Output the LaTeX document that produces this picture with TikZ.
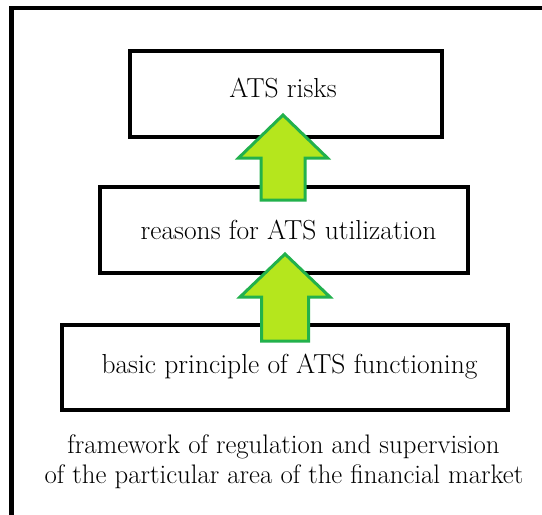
\documentclass[tikz,border=0pt]{standalone}
\definecolor{arrowfill}{HTML}{B5E61D}
\definecolor{arrowline}{HTML}{22B14C}
\tikzset{
  levelbox/.style={draw=black, line width=4pt, rectangle, inner sep=0pt, fill=white},
  leveltext/.style={anchor=base, inner sep=0pt, font=\fontsize{27.5}{30}\selectfont},
  notetext/.style={anchor=base, inner sep=0pt, font=\fontsize{26.8}{30}\selectfont},
  blockarrow/.style={draw=arrowline, fill=arrowfill, line width=3pt, line join=miter},
}
\newcommand{\upblockarrow}[6]{% cx, tip, wing y, half wing, half shaft, bottom
  \draw[blockarrow] (#1,#2) -- (#1+#4,#3) -- (#1+#5,#3) -- (#1+#5,#6)
    -- (#1-#5,#6) -- (#1-#5,#3) -- (#1-#4,#3) -- cycle;}
\begin{document}
\begin{tikzpicture}[x=1pt,y=-1pt]
\useasboundingbox (0,0) rectangle (542,515);
\fill[white] (0,0) rectangle (542,515);
% outer frame (cut off at right and bottom)
\draw[line width=4.5pt, line join=miter] (545,8) -- (11.5,8) -- (11.5,518);
% boxes
\node[levelbox, minimum width=312pt, minimum height=86pt] (b1) at (286,94) {};
\node[levelbox, minimum width=368pt, minimum height=86pt] (b2) at (284,230) {};
\node[levelbox, minimum width=446.5pt, minimum height=85pt] (b3) at (284.75,367.5) {};
% texts
\node[leveltext] (t1) at (283,97) {ATS risks};
\node[leveltext] (t2) at (288.5,239) {reasons for ATS utilization};
\node[leveltext] (t3) at (289.5,373) {basic principle of ATS functioning};
\node[notetext] (t4) at (283.5,453) {framework of regulation and supervision};
\node[notetext] (t5) at (284,483) {of the particular area of the financial market};
% arrows
\upblockarrow{283}{115}{158}{44.5}{22}{200}
\upblockarrow{285}{254}{297}{45}{23.5}{341}
\end{tikzpicture}
\end{document}
